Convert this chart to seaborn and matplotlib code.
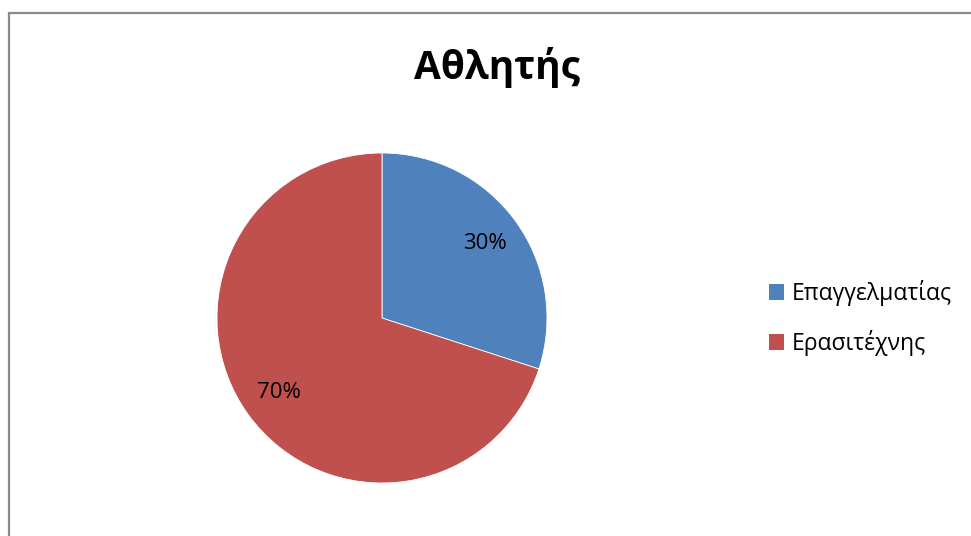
import matplotlib
matplotlib.use("Agg")
import matplotlib.pyplot as plt
from matplotlib.lines import Line2D
from matplotlib.patches import Patch
import seaborn as sns

# Data
categories = ["Επαγγελματίας", "Ερασιτέχνης"]
shares = [30, 70]
title = "Αθλητής"

sns.set_theme(style="white")
plt.rcParams["font.family"] = ["Open Sans", "DejaVu Sans"]

colors = sns.color_palette(["#4F81BD", "#C0504D"])

W, H = 971, 536
fig = plt.figure(figsize=(W / 100, H / 100), dpi=100)
fig.patch.set_facecolor("white")

# chart-area frame (left and top edges)
fx, fy = 9 / W, 1 - 13 / H
fig.add_artist(Line2D([fx, fx, 1.0], [0.0, fy, fy], transform=fig.transFigure,
                      color="#8c8c8c", lw=1.6, solid_joinstyle="miter"))

# pie axes
cx, cy, r = 382, H - 318, 165
ax = fig.add_axes([(cx - r) / W, (cy - r) / H, 2 * r / W, 2 * r / H])
wedges, texts, autotexts = ax.pie(
    shares, colors=colors, startangle=90, counterclock=False,
    autopct=lambda p: f"{p:.0f}%", pctdistance=0.77,
    wedgeprops=dict(edgecolor="white", linewidth=0.6),
    textprops=dict(fontsize=16, color="black"),
)
ax.set_xlim(-1, 1)
ax.set_ylim(-1, 1)
ax.set_aspect("equal")
ax.axis("off")

fig.text(497 / W, 1 - 67 / H, title, ha="center", va="center",
         fontsize=28, fontweight="bold", color="black")

handles = [Patch(facecolor=c, edgecolor="none") for c in colors]
leg = fig.legend(handles, categories, loc="center left",
                 bbox_to_anchor=(769 / W, 1 - 318 / H), frameon=False,
                 fontsize=16.5, handlelength=0.65, handleheight=0.65,
                 handletextpad=0.35, labelspacing=1.05, borderaxespad=0, borderpad=0)
for t in leg.get_texts():
    t.set_color("black")

fig.savefig("out.png", dpi=100, facecolor="white")
